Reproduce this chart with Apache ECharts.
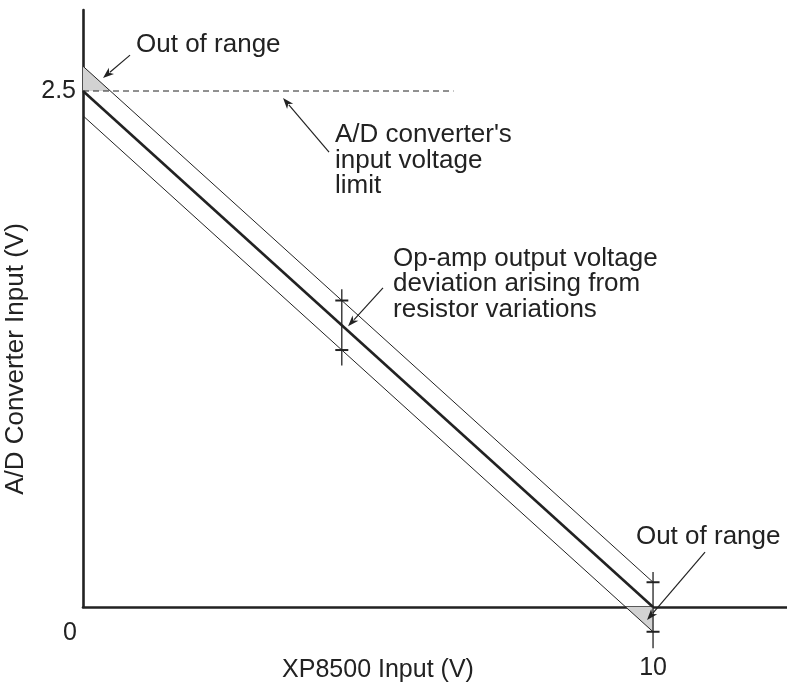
<!DOCTYPE html>
<html><head><meta charset="utf-8">
<script src="https://cdn.jsdelivr.net/npm/echarts@6/dist/echarts.min.js"></script>
<style>html,body{margin:0;padding:0;background:#fff}#c{width:787px;height:689px}</style>
</head><body><div id="c"></div>
<script>
// ---- data ----
const xTickValues = [0, 10];
const yTickValues = [2.5];
const idealX = [0, 10];
const idealY = [2.5, 0];
const upperX = [0, 10];
const upperY = [2.62, 0.12];
const lowerX = [0, 10];
const lowerY = [2.38, -0.12];
const limitX = [0, 6.5];
const limitY = [2.5, 2.5];
const barX = [4.54, 10];
const barTop = [1.54, 0.17];
const barBottom = [1.17, -0.2];
const barHi = [1.485, 0.12];
const barLo = [1.245, -0.12];
const shadeTopX = [0, 0, 0.48];
const shadeTopY = [2.62, 2.5, 2.5];
const shadeBotX = [10, 10, 9.52];
const shadeBotY = [0, -0.12, 0];
const noteTexts = ["Out of range", "A/D converter's\ninput voltage\nlimit", "Op-amp output voltage\ndeviation arising from\nresistor variations", "Out of range"];
const noteX = [0.93, 4.42, 5.44, 9.70];
const noteY = [2.786, 2.348, 1.751, 0.40];
const arrowFromX = [0.825, 4.316, 5.263, 10.912];
const arrowFromY = [2.674, 2.204, 1.546, 0.266];
const arrowToX = [0.351, 3.509, 4.65, 9.895];
const arrowToY = [2.563, 2.466, 1.36, -0.063];

// ---- chart ----
const INK = '#222';
const FONT = '"Liberation Sans", Arial, Helvetica, sans-serif';
const pairs = (xs, ys) => xs.map((x, i) => [x, ys[i]]);
const shades = [pairs(shadeTopX, shadeTopY), pairs(shadeBotX, shadeBotY)];

const chart = echarts.init(document.getElementById('c'), null, {renderer: 'canvas'});
chart.setOption({
  animation: false,
  backgroundColor: '#fff',
  grid: {left: 83, right: 0, top: 10, bottom: 82, containLabel: false, outerBoundsMode: 'none'},
  xAxis: {
    type: 'value', min: 0, max: 12.35,
    splitLine: {show: false}, axisTick: {show: false},
    axisLine: {lineStyle: {color: INK, width: 2.6}},
    axisLabel: {
      customValues: xTickValues, margin: 14, color: INK, fontSize: 25, fontFamily: FONT,
      formatter: v => v === 0 ? '{z|0}' : '{t|' + v + '}',
      rich: {
        z: {fontSize: 25, fontFamily: FONT, color: INK, padding: [0, 26, 0, 0]},
        t: {fontSize: 25, fontFamily: FONT, color: INK, padding: [35, 0, 0, 0]}
      }
    },
    name: 'XP8500 Input (V)', nameLocation: 'middle', nameGap: 51, nameMoveOverlap: false,
    nameTextStyle: {fontSize: 25, fontFamily: FONT, color: INK, padding: [0, 114, 0, 0]}
  },
  yAxis: {
    type: 'value', min: 0, max: 2.8925,
    splitLine: {show: false}, axisTick: {show: false},
    axisLine: {lineStyle: {color: INK, width: 2.6}},
    axisLabel: {customValues: yTickValues, margin: 7, color: INK, fontSize: 25, fontFamily: FONT},
    name: 'A/D Converter Input (V)', nameLocation: 'middle', nameGap: 54, nameMoveOverlap: false,
    nameTextStyle: {fontSize: 26, fontFamily: FONT, color: INK, padding: [0, 101, 0, 0]}
  },
  series: [
    {
      type: 'custom', name: 'shade', clip: false, silent: true,
      data: shades.map((s, i) => [i]),
      renderItem: (params, api) => ({
        type: 'polygon',
        shape: {points: shades[params.dataIndex].map(p => api.coord(p))},
        style: {fill: '#d2d2d2'}
      })
    },
    {
      type: 'line', name: 'limit', clip: false, symbol: 'none', silent: true,
      data: pairs(limitX, limitY),
      lineStyle: {color: INK, width: 1, type: [6, 4]}
    },
    {
      type: 'line', name: 'upper', clip: false, symbol: 'none', silent: true,
      data: pairs(upperX, upperY), lineStyle: {color: INK, width: 1}
    },
    {
      type: 'line', name: 'lower', clip: false, symbol: 'none', silent: true,
      data: pairs(lowerX, lowerY), lineStyle: {color: INK, width: 1}
    },
    {
      type: 'line', name: 'ideal', clip: false, symbol: 'none', silent: true,
      data: pairs(idealX, idealY), lineStyle: {color: INK, width: 2.6}
    },
    {
      type: 'custom', name: 'deviation', clip: false, silent: true,
      data: barX.map((x, i) => [x, barTop[i], barBottom[i], barHi[i], barLo[i]]),
      renderItem: (params, api) => {
        const x = api.value(0);
        const a = api.coord([x, api.value(1)]), b = api.coord([x, api.value(2)]);
        const h = api.coord([x, api.value(3)]), l = api.coord([x, api.value(4)]);
        const hw = 6.5;
        return {type: 'group', children: [
          {type: 'line', shape: {x1: a[0], y1: a[1], x2: b[0], y2: b[1]}, style: {stroke: INK, lineWidth: 1.3}},
          {type: 'line', shape: {x1: h[0] - hw, y1: h[1], x2: h[0] + hw, y2: h[1]}, style: {stroke: INK, lineWidth: 2}},
          {type: 'line', shape: {x1: l[0] - hw, y1: l[1], x2: l[0] + hw, y2: l[1]}, style: {stroke: INK, lineWidth: 2}}
        ]};
      }
    },
    {
      type: 'custom', name: 'arrows', clip: false, silent: true,
      data: arrowFromX.map((x, i) => [x, arrowFromY[i], arrowToX[i], arrowToY[i]]),
      renderItem: (params, api) => {
        const a = api.coord([api.value(0), api.value(1)]);
        const b = api.coord([api.value(2), api.value(3)]);
        const dx = b[0] - a[0], dy = b[1] - a[1], len = Math.hypot(dx, dy);
        const ux = dx / len, uy = dy / len, L = 11, W = 4;
        const base = [b[0] - ux * L, b[1] - uy * L];
        return {type: 'group', children: [
          {type: 'line', shape: {x1: a[0], y1: a[1], x2: base[0] + ux * 2, y2: base[1] + uy * 2}, style: {stroke: INK, lineWidth: 1.2}},
          {type: 'polygon', shape: {points: [b, [base[0] - uy * W, base[1] + ux * W], [base[0] + ux * 3, base[1] + uy * 3], [base[0] + uy * W, base[1] - ux * W]]}, style: {fill: INK}}
        ]};
      }
    },
    {
      type: 'custom', name: 'notes', clip: false, silent: true,
      data: noteX.map((x, i) => [x, noteY[i]]),
      renderItem: (params, api) => {
        const p = api.coord([api.value(0), api.value(1)]);
        return {type: 'text', x: p[0], y: p[1], style: {
          text: noteTexts[params.dataIndex], fill: INK, fontSize: 26, fontFamily: FONT,
          lineHeight: 25.5, align: 'left', verticalAlign: 'top'
        }};
      }
    }
  ]
});
</script></body></html>
